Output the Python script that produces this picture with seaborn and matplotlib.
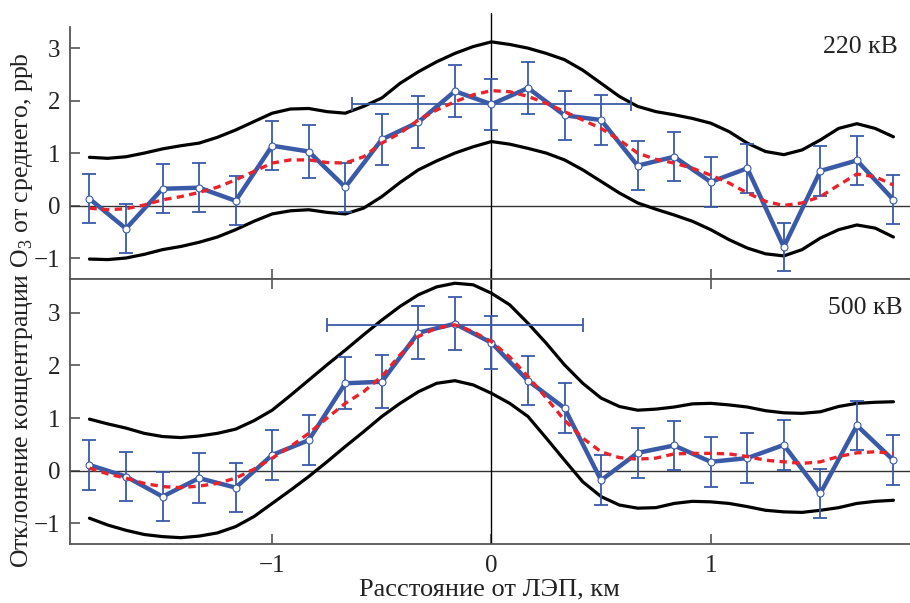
import matplotlib
matplotlib.use("Agg")
import matplotlib.pyplot as plt
import seaborn as sns

sns.set_style("white")
plt.rcParams['font.family'] = ['Liberation Serif', 'DejaVu Serif']
plt.rcParams['mathtext.fontset'] = 'custom'
plt.rcParams['mathtext.rm'] = 'Liberation Serif'

# distance from the power line, km: measurements every 1/6 km,
# smooth curves read off every 1/12 km
dist = [k / 6 for k in range(-11, 12)]
dist_fine = [k / 12 for k in range(-22, 23)]

# 220 kV
o3_220 = [0.13, -0.44, 0.32, 0.34, 0.09, 1.14, 1.03, 0.35, 1.26, 1.59, 2.18, 1.93,
          2.24, 1.72, 1.63, 0.76, 0.93, 0.45, 0.71, -0.79, 0.66, 0.86, 0.11]
err_220 = [0.47, 0.47, 0.47, 0.47, 0.47, 0.47, 0.5, 0.47, 0.49, 0.5, 0.5, 0.49,
           0.5, 0.47, 0.47, 0.47, 0.47, 0.47, 0.47, 0.45, 0.47, 0.47, 0.47]
smooth_220 = [-0.05, -0.08, -0.06, 0.01, 0.11, 0.17, 0.25, 0.35, 0.49, 0.65, 0.81, 0.87,
              0.87, 0.82, 0.81, 0.93, 1.19, 1.38, 1.63, 1.82, 1.98, 2.11, 2.19, 2.17,
              2.08, 1.95, 1.79, 1.63, 1.47, 1.25, 1.0, 0.88, 0.81, 0.71, 0.58, 0.43,
              0.24, 0.08, 0.0, 0.05, 0.17, 0.39, 0.60, 0.55, 0.39]
upper_220 = [0.92, 0.90, 0.93, 1.0, 1.08, 1.14, 1.19, 1.30, 1.44, 1.60, 1.76, 1.84,
             1.85, 1.79, 1.76, 1.89, 2.05, 2.33, 2.55, 2.74, 2.90, 3.03, 3.12, 3.07,
             3.0, 2.90, 2.78, 2.58, 2.33, 2.08, 1.89, 1.79, 1.73, 1.66, 1.57, 1.41,
             1.19, 1.03, 0.97, 1.06, 1.25, 1.47, 1.56, 1.47, 1.31]
lower_220 = [-1.02, -1.03, -1.0, -0.93, -0.84, -0.78, -0.70, -0.60, -0.46, -0.30, -0.16, -0.10,
             -0.08, -0.13, -0.16, -0.05, 0.17, 0.44, 0.68, 0.85, 1.0, 1.12, 1.22, 1.17,
             1.09, 1.0, 0.87, 0.68, 0.46, 0.24, 0.05, -0.07, -0.18, -0.30, -0.46, -0.65,
             -0.81, -0.92, -0.96, -0.84, -0.62, -0.46, -0.37, -0.43, -0.60]
hbar_220 = (0.0, 1.93, 0.635)

# 500 kV
o3_500 = [0.11, -0.11, -0.49, -0.14, -0.32, 0.30, 0.58, 1.66, 1.69, 2.62, 2.79, 2.43,
          1.71, 1.19, -0.18, 0.34, 0.48, 0.17, 0.24, 0.49, -0.43, 0.86, 0.20]
err_500 = [0.47, 0.47, 0.47, 0.47, 0.47, 0.47, 0.47, 0.49, 0.5, 0.5, 0.5, 0.5,
           0.47, 0.47, 0.47, 0.47, 0.47, 0.47, 0.47, 0.47, 0.47, 0.47, 0.47]
smooth_500 = [0.05, -0.06, -0.14, -0.24, -0.30, -0.32, -0.29, -0.24, -0.14, 0.03, 0.24, 0.46,
              0.71, 1.0, 1.28, 1.50, 1.79, 2.20, 2.55, 2.71, 2.77, 2.64, 2.45, 2.16,
              1.79, 1.38, 0.96, 0.62, 0.36, 0.25, 0.22, 0.24, 0.32, 0.33, 0.33, 0.32,
              0.27, 0.20, 0.17, 0.14, 0.17, 0.27, 0.34, 0.36, 0.33]
upper_500 = [0.98, 0.89, 0.81, 0.71, 0.65, 0.63, 0.66, 0.71, 0.79, 0.95, 1.15, 1.43,
             1.72, 2.01, 2.29, 2.58, 2.86, 3.12, 3.34, 3.49, 3.56, 3.53, 3.37, 3.15,
             2.80, 2.42, 2.01, 1.66, 1.38, 1.22, 1.15, 1.17, 1.21, 1.27, 1.28, 1.25,
             1.21, 1.14, 1.10, 1.09, 1.12, 1.22, 1.28, 1.30, 1.31]
lower_500 = [-0.90, -1.03, -1.13, -1.21, -1.25, -1.27, -1.24, -1.18, -1.06, -0.87, -0.62, -0.37,
             -0.11, 0.17, 0.46, 0.74, 1.03, 1.28, 1.50, 1.66, 1.71, 1.63, 1.47, 1.28,
             1.03, 0.62, 0.20, -0.21, -0.49, -0.65, -0.71, -0.70, -0.62, -0.58, -0.59, -0.62,
             -0.68, -0.75, -0.78, -0.79, -0.75, -0.70, -0.62, -0.58, -0.56]
hbar_500 = (-1 / 6, 2.77, 0.585)

blue = '#3a5aa8'
red = '#e8232b'
axcol = '#555555'
txtcol = '#222222'

fig = plt.figure(figsize=(9.1, 6.03), dpi=100)
ax1 = fig.add_axes([70 / 910, 1 - 279 / 603, 842 / 910, 266 / 603])
ax2 = fig.add_axes([70 / 910, 1 - 544 / 603, 842 / 910, 265 / 603])


def draw_panel(ax, y, err, smooth, upper, lower, hbar, label, label_pos, ylim):
    ax.axhline(0, color='#333333', lw=1.0, zorder=1)
    ax.axvline(0, color='black', lw=1.0, zorder=1)
    for env in (upper, lower):
        sns.lineplot(x=dist_fine, y=env, ax=ax, color='black', lw=2.3, zorder=2,
                     solid_joinstyle='round')
    ax.errorbar(dist, y, yerr=err, fmt='none', ecolor=blue, elinewidth=1.3,
                capsize=5, capthick=1.3, zorder=3)
    ax.errorbar([hbar[0]], [hbar[1]], xerr=[hbar[2]], fmt='none', ecolor=blue,
                elinewidth=1.3, capsize=5, capthick=1.3, zorder=3)
    sns.lineplot(x=dist, y=y, ax=ax, color=blue, lw=3.2, zorder=4,
                 marker='o', markersize=5, markerfacecolor='white',
                 markeredgecolor=blue, markeredgewidth=0.8)
    sns.lineplot(x=dist_fine, y=smooth, ax=ax, color=red, lw=2.4, zorder=5,
                 linestyle=(0, (2.2, 1.6)))
    ax.set_xlim(-1.922, 1.918)
    ax.set_ylim(*ylim)
    ax.set_yticks([-1, 0, 1, 2, 3])
    ax.set_xticks([-1, 0, 1])
    ax.tick_params(direction='in', length=7, width=1.2, color=axcol,
                   labelsize=18, top=True, bottom=True, left=True,
                   labelcolor=txtcol)
    ax.tick_params(axis='y', pad=7)
    ax.tick_params(axis='x', pad=8)
    for s in ['left', 'bottom', 'top']:
        ax.spines[s].set_color(axcol)
        ax.spines[s].set_linewidth(1.3)
    ax.spines['right'].set_visible(False)
    ax.text(label_pos[0], label_pos[1], label, transform=ax.transAxes,
            ha='right', va='center', fontsize=18.5, color=txtcol)
    ax.set_xlabel('')
    ax.set_ylabel('')


draw_panel(ax1, o3_220, err_220, smooth_220, upper_220, lower_220, hbar_220,
           '220 кВ', (0.983, 0.872), (-1.40, 3.67))
ax1.spines['top'].set_visible(False)
ax1.spines['left'].set_bounds(-1.40, 3.40)
ax1.tick_params(top=False, labelbottom=False)

draw_panel(ax2, o3_500, err_500, smooth_500, upper_500, lower_500, hbar_500,
           '500 кВ', (0.989, 0.89), (-1.39, 3.64))

fig.text(0.538, 0.004, 'Расстояние от ЛЭП, км', ha='center', va='bottom',
         fontsize=19, color=txtcol)
fig.text(0.024, 0.485, 'Отклонение концентрации O$_3$ от среднего, ppb',
         rotation=90, ha='center', va='center', fontsize=18.5, color=txtcol)

fig.savefig('out.png', dpi=100)
